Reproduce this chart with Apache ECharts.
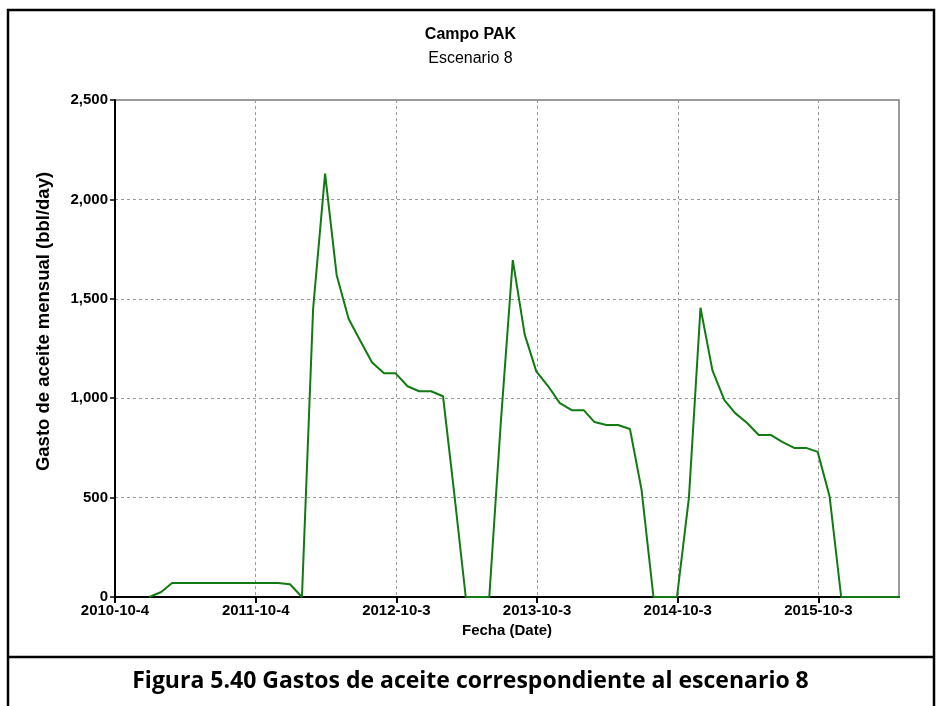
<!DOCTYPE html>
<html>
<head>
<meta charset="utf-8">
<script src="https://cdn.jsdelivr.net/npm/echarts@6/dist/echarts.min.js"></script>
<style>
html,body{margin:0;padding:0;background:#fff;}
#chart{width:941px;height:706px;}
</style>
</head>
<body>
<div id="chart"></div>
<script>
// ---- data ----
var startDate = '2010-10-04';
var tickDates = ['2010-10-04','2011-10-04','2012-10-03','2013-10-03','2014-10-03','2015-10-03'];
var dates = [
 '2011-01-01','2011-02-01','2011-03-01','2011-04-01','2011-05-01','2011-06-01','2011-07-01','2011-08-01','2011-09-01','2011-10-01','2011-11-01','2011-12-01',
 '2012-01-01','2012-02-01','2012-03-01','2012-04-01','2012-05-01','2012-06-01','2012-07-01','2012-08-01','2012-09-01','2012-10-01','2012-11-01','2012-12-01',
 '2013-01-01','2013-02-01','2013-03-01','2013-04-01','2013-05-01','2013-06-01','2013-07-01','2013-08-01','2013-09-01','2013-10-01','2013-11-01','2013-12-01',
 '2014-01-01','2014-02-01','2014-03-01','2014-04-01','2014-05-01','2014-06-01','2014-07-01','2014-08-01','2014-09-01','2014-10-01','2014-11-01','2014-12-01',
 '2015-01-01','2015-02-01','2015-03-01','2015-04-01','2015-05-01','2015-06-01','2015-07-01','2015-08-01','2015-09-01','2015-10-01','2015-11-01','2015-12-01',
 '2016-01-01','2016-02-01','2016-03-01','2016-04-01','2016-05-01'
];
var oilRate = [
 0,25,70,70,70,70,70,70,70,70,70,70,
 64,0,1450,2130,1620,1400,1290,1180,1125,1125,1060,1035,
 1035,1010,540,0,0,0,880,1695,1320,1135,1060,975,
 940,940,880,865,865,845,540,0,0,0,500,1455,
 1140,990,925,875,815,815,780,750,750,730,505,0,
 0,0,0,0,0
];
var yMin = 0, yMax = 2500, yStep = 500;
var xMaxDate = '2016-04-29';

// ---- helpers ----
function utc(s){var p=s.split('-');return Date.UTC(+p[0],+p[1]-1,+p[2]);}
var DAY = 86400000;
var t0 = utc(startDate);
function dayOf(s){return Math.round((utc(s)-t0)/DAY);}
function fmtDay(v){
  var d = new Date(t0 + v*DAY);
  return d.getUTCFullYear()+'-'+(d.getUTCMonth()+1)+'-'+d.getUTCDate();
}
function fmtNum(v){return String(v).replace(/\B(?=(\d{3})+(?!\d))/g, ',');}

var seriesData = dates.map(function(d,i){return [dayOf(d), oilRate[i]];});
var tickDays = tickDates.map(dayOf);

var FONT = '"Liberation Sans", Arial, sans-serif';
var chart = echarts.init(document.getElementById('chart'), null, {renderer:'canvas'});
chart.setOption({
  backgroundColor:'#ffffff',
  animation:false,
  title:[
    {text:'Campo PAK', left:'center', top:22, textStyle:{fontFamily:FONT, fontSize:16, fontWeight:'bold', color:'#000'}},
    {text:'Escenario 8', left:'center', top:46, textStyle:{fontFamily:FONT, fontSize:16, fontWeight:'normal', color:'#000'}}
  ],
  grid:{left:115, right:42, top:100, bottom:109, show:true, borderColor:'#7a7a7a', borderWidth:1.5, backgroundColor:'transparent'},
  xAxis:{
    type:'value', min:0, max:dayOf(xMaxDate), interval:365,
    name:'Fecha (Date)', nameLocation:'middle', nameGap:26,
    nameTextStyle:{fontFamily:FONT, fontSize:15, fontWeight:'bold', color:'#000'},
    axisLine:{show:true, onZero:false, lineStyle:{color:'#000', width:2}},
    axisTick:{show:true, inside:false, length:6, customValues:tickDays, lineStyle:{color:'#000', width:2}},
    axisLabel:{customValues:tickDays, formatter:fmtDay, margin:6, fontFamily:FONT, fontSize:15, fontWeight:'bold', color:'#000'},
    splitLine:{show:true, lineStyle:{color:'#9a9a9a', width:1, type:[3,3]}}
  },
  yAxis:{
    type:'value', min:yMin, max:yMax, interval:yStep,
    name:'Gasto de aceite mensual (bbl/day)', nameLocation:'middle', nameGap:62, nameRotate:90,
    nameTextStyle:{fontFamily:FONT, fontSize:18.5, fontWeight:'bold', color:'#000', padding:[0,0,0,54]},
    axisLine:{show:true, lineStyle:{color:'#000', width:2}},
    axisTick:{show:true, inside:false, length:5, lineStyle:{color:'#000', width:1.5}},
    axisLabel:{formatter:fmtNum, margin:7, fontFamily:FONT, fontSize:15, fontWeight:'bold', color:'#000'},
    splitLine:{show:true, lineStyle:{color:'#9a9a9a', width:1, type:[3,3]}}
  },
  series:[{
    type:'line', data:seriesData, showSymbol:false, symbol:'none', clip:true,
    lineStyle:{color:'#117a11', width:2}
  }],
  graphic:[
    {type:'rect', shape:{x:8, y:10, width:926, height:720}, style:{fill:'none', stroke:'#000', lineWidth:2.5}, silent:true},
    {type:'line', shape:{x1:8, y1:657, x2:934, y2:657}, style:{stroke:'#000', lineWidth:2.5}, silent:true},
    {type:'text', left:'center', top:670, style:{text:'Figura 5.40 Gastos de aceite correspondiente al escenario 8', font:'bold 23px "Open Sans", "Noto Sans", sans-serif', fill:'#000'}, silent:true}
  ]
});
</script>
</body>
</html>
